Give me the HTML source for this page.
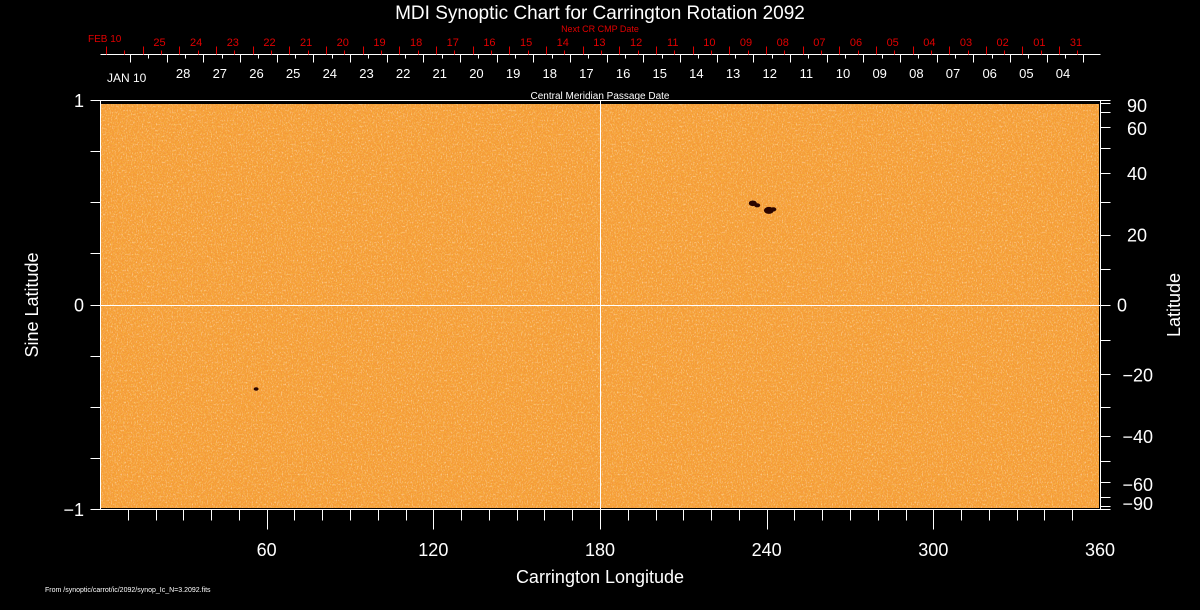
<!DOCTYPE html>
<html><head><meta charset="utf-8"><style>
html,body{margin:0;padding:0;background:#000;}
svg{display:block;font-family:"Liberation Sans","DejaVu Sans",sans-serif;}
</style></head><body>
<svg id="chart" width="1200" height="610" viewBox="0 0 1200 610">
<defs>
<filter id="noise" x="0" y="0" width="100%" height="100%">
<feTurbulence type="fractalNoise" baseFrequency="0.8 0.5" numOctaves="2" seed="4" result="t"/>
<feColorMatrix type="matrix" values="0 0 0 0 1  0 0 0 0 0.85  0 0 0 0 0.68  1.8 0 0 0 -0.95" in="t" result="c"/>
<feComposite in="c" in2="SourceGraphic" operator="in"/>
</filter>
<filter id="noise2" x="0" y="0" width="100%" height="100%">
<feTurbulence type="fractalNoise" baseFrequency="0.7 0.9" numOctaves="1" seed="9" result="t"/>
<feColorMatrix type="matrix" values="0 0 0 0 0.93  0 0 0 0 0.5  0 0 0 0 0.05  2.2 0 0 0 -0.95" in="t" result="c"/>
<feComposite in="c" in2="SourceGraphic" operator="in"/>
</filter>
</defs>
<rect width="1200" height="610" fill="#000"/>
<g id="plot">
<rect x="101" y="104" width="998" height="404" fill="#f59a38"/>
<rect x="101" y="104" width="998" height="404" fill="#f59a38" filter="url(#noise2)"/>
<rect x="101" y="104" width="998" height="404" fill="#f59a38" filter="url(#noise)"/>
</g>
<g id="spots"></g>
<g id="axes" stroke="#fff" stroke-width="1" fill="none" shape-rendering="crispEdges"></g>
<g id="labels" fill="#fff"></g>
<text x="600" y="19" fill="#fff" font-size="19" text-anchor="middle">MDI Synoptic Chart for Carrington Rotation 2092</text>
<text x="600" y="32" fill="#e00000" font-size="9" text-anchor="middle">Next CR CMP Date</text>
<text x="600" y="99" fill="#fff" font-size="10" text-anchor="middle">Central Meridian Passage Date</text>
<text x="88" y="42" fill="#e00000" font-size="10">FEB 10</text>
<text x="107" y="82" fill="#fff" font-size="12">JAN 10</text>
<text x="600" y="583" fill="#fff" font-size="18" text-anchor="middle">Carrington Longitude</text>
<text transform="translate(38,305) rotate(-90)" fill="#fff" font-size="18" text-anchor="middle">Sine Latitude</text>
<text transform="translate(1180,305) rotate(-90)" fill="#fff" font-size="18" text-anchor="middle">Latitude</text>
<text x="45" y="592" fill="#fff" font-size="7">From /synoptic/carrot/ic/2092/synop_Ic_N=3.2092.fits</text>
</svg>
<script>
const lonTicks = [60, 120, 180, 240, 300, 360];
const sineTicks = [1, 0, -1];
const latTicks = [90, 60, 40, 20, 0, -20, -40, -60, -90];
const latMinor = [80, 70, 50, 30, 10, -10, -30, -50, -70, -80];
const cmpLabels = ["28","27","26","25","24","23","22","21","20","19","18","17","16","15","14","13","12","11","10","09","08","07","06","05","04"];
const nextLabels = ["25","24","23","22","21","20","19","18","17","16","15","14","13","12","11","10","09","08","07","06","05","04","03","02","01","31"];
const spotLon = [235.0, 236.6, 240.8, 242.4, 56.2];
const spotSin = [0.495, 0.485, 0.46, 0.465, -0.413];
const spotSize = [4, 3, 5, 3, 2.5];

const NS = "http://www.w3.org/2000/svg";
const X = lon => 100 + lon * 1000 / 360;
const Y = s => 304.5 - s * 204.5;
const axes = document.getElementById('axes');
const labels = document.getElementById('labels');
function line(x1,y1,x2,y2,col){const l=document.createElementNS(NS,'line');l.setAttribute('x1',Math.round(x1)+0.5);l.setAttribute('y1',Math.round(y1)+0.5);l.setAttribute('x2',Math.round(x2)+0.5);l.setAttribute('y2',Math.round(y2)+0.5);if(col)l.setAttribute('stroke',col);axes.appendChild(l);return l;}
function text(x,y,s,size,anchor,col){const t=document.createElementNS(NS,'text');t.setAttribute('x',x);t.setAttribute('y',y);t.setAttribute('font-size',size);t.setAttribute('text-anchor',anchor||'middle');if(col)t.setAttribute('fill',col);t.textContent=s;labels.appendChild(t);return t;}

let f=line(100,100,100,509);
f=line(1100,100,1100,509);
f=line(90,100,1100,100);
f=line(90,509,1100,509);
f=line(600,100,600,509);
f=line(100,Y(0),1100,Y(0));

for(let d=10;d<=350;d+=10){const l=line(X(d),509,X(d),d%60===0?529:520);}
lonTicks.forEach(v=>{const t=text(X(v),556,String(v),18,'middle');});
for(let s=-0.75;s<=0.76;s+=0.25){const l=line(90,Y(s),100,Y(s));}
sineTicks.forEach(v=>{const t=text(84,Y(v)+7,v<0?'\u2212'+Math.abs(v):String(v),18,'end');});
latTicks.forEach(v=>{const y=Y(Math.sin(v*Math.PI/180));const l=line(1100,y,1110,y);
 let yy=y+7; if(v===90)yy=112; if(v===60)yy=135; if(v===-90)yy=510; if(v===-60)yy=491;
 const t=text(v<0?1153:v===0?1117:1127,yy,v<0?'\u2212'+Math.abs(v):String(v),18,'start');t.setAttribute('text-anchor',v<0?'end':'start');
 });
latMinor.forEach(v=>{const y=Y(Math.sin(v*Math.PI/180));const l=line(1100,y,1110,y);});

const step = 36.66;
f=line(100,54,1100,54);
for(let k=0;k<27;k++){
 const xr=106+k*step; let l=line(xr,46,xr,54,'#e00000');
 l=line(xr+step/2,50,xr+step/2,54,'#e00000');
 const xw=130+k*step; if(xw<1100){l=line(xw,54,xw,62);}
 if(xw+step/2<1100){l=line(xw+step/2,54,xw+step/2,58);}
}
cmpLabels.forEach((s,i)=>{const t=text(1063-(cmpLabels.length-1-i)*step,78,s,13,'middle');});
nextLabels.forEach((s,i)=>{const t=text(1076-(nextLabels.length-1-i)*step,46,s,11,'middle','#e00000');});

const spots=document.getElementById('spots');
spotLon.forEach((lon,i)=>{
 const c=document.createElementNS(NS,'ellipse');
 c.setAttribute('cx',X(lon));c.setAttribute('cy',Y(spotSin[i]));
 c.setAttribute('rx',spotSize[i]);c.setAttribute('ry',spotSize[i]*0.7);
 c.setAttribute('fill','#2a0500');
 
 
 spots.appendChild(c);
});
</script>
</body></html>
